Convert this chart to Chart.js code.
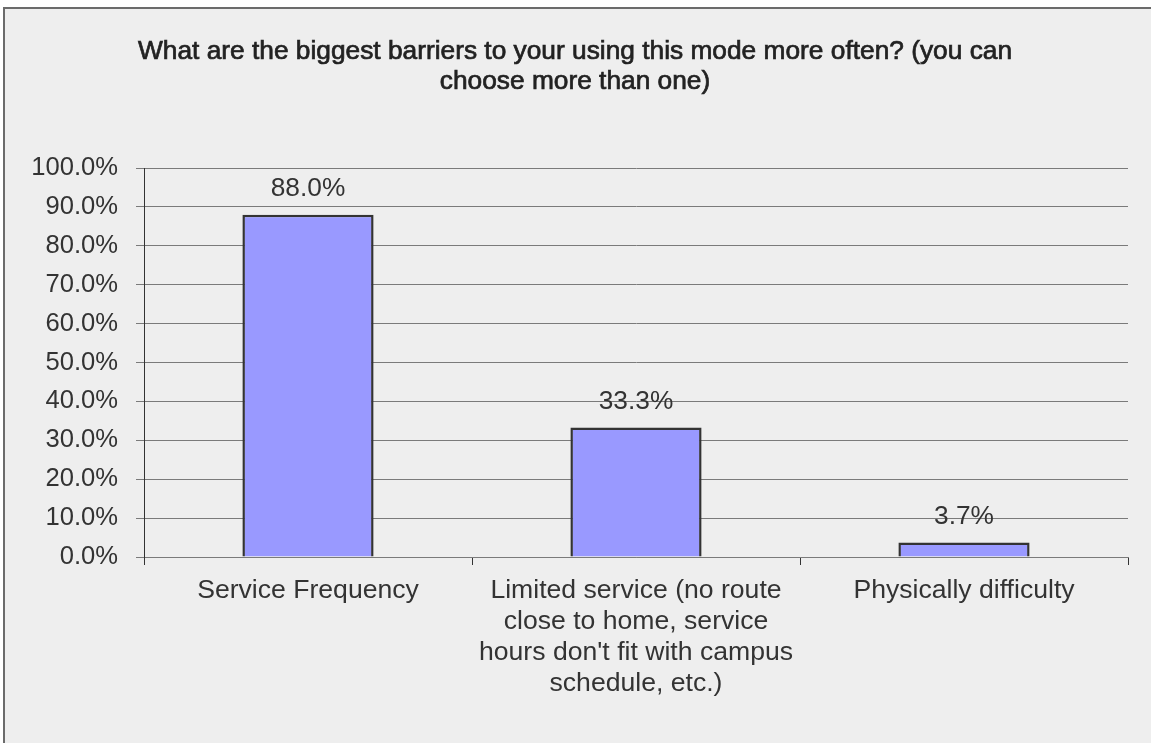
<!DOCTYPE html>
<html>
<head>
<meta charset="utf-8">
<script src="https://cdn.jsdelivr.net/npm/chart.js@4/dist/chart.umd.min.js"></script>
<style>
  html, body { margin: 0; padding: 0; background: #ffffff; overflow: hidden; }
  #frame {
    position: absolute; left: 3px; top: 7px;
    width: 1200px; height: 800px;
    background: #eeeeee; border: 2px solid #6b6b6b;
  }
  #chart { position: absolute; left: 0; top: 0; }
</style>
</head>
<body>
<div id="frame"></div>
<canvas id="chart" width="1151" height="743"></canvas>
<script>
// Survey question and answer options
const titleLines = [
  "What are the biggest barriers to your using this mode more often? (you can",
  "choose more than one)"
];
const categories = [
  ["Service Frequency"],
  ["Limited service (no route", "close to home, service", "hours don't fit with campus", "schedule, etc.)"],
  ["Physically difficulty"]
];
// Share of respondents choosing each barrier (%)
const shares = [88.0, 33.3, 3.7];
const yMin = 0, yMax = 100, yStep = 10;

const FONT = "'Liberation Sans', Arial, Helvetica, sans-serif";

// Semi-bold two-line heading centred over the canvas
const heading = {
  id: 'heading',
  afterDraw(chart) {
    const ctx = chart.ctx;
    ctx.save();
    ctx.font = "26.3px " + FONT;
    ctx.fillStyle = '#222222';
    ctx.strokeStyle = '#222222';
    ctx.lineWidth = 0.7;
    ctx.textAlign = 'center';
    ctx.textBaseline = 'middle';
    const cx = 575;
    titleLines.forEach((line, i) => {
      const y = 52 + i * 30;
      ctx.fillText(line, cx, y);
      ctx.strokeText(line, cx, y);
    });
    ctx.restore();
  }
};

// Writes the percentage above each bar
const valueLabels = {
  id: 'valueLabels',
  afterDatasetsDraw(chart) {
    const ctx = chart.ctx;
    const meta = chart.getDatasetMeta(0);
    ctx.save();
    ctx.font = "26.3px " + FONT;
    ctx.fillStyle = '#333333';
    ctx.textAlign = 'center';
    ctx.textBaseline = 'middle';
    meta.data.forEach((bar, i) => {
      const v = chart.data.datasets[0].data[i];
      ctx.fillText(v.toFixed(1) + '%', bar.x, bar.y - 26);
    });
    ctx.restore();
  }
};

new Chart(document.getElementById('chart'), {
  type: 'bar',
  data: {
    labels: categories,
    datasets: [{
      data: shares,
      backgroundColor: '#9999ff',
      borderColor: '#333333',
      borderWidth: 2.5,
      barPercentage: 0.4,
      categoryPercentage: 1.0
    }]
  },
  options: {
    responsive: false,
    animation: false,
    devicePixelRatio: 1,
    layout: { padding: { left: 0, right: 23, top: 168, bottom: 0 } },
    plugins: {
      legend: { display: false },
      tooltip: { enabled: false },
      title: { display: false }
    },
    scales: {
      x: {
        offset: true,
        grid: {
          display: true,
          drawOnChartArea: false,
          drawTicks: true,
          tickLength: 8,
          color: '#333333',
          offset: true
        },
        border: { display: true, color: '#7a7a7a', width: 1 },
        ticks: {
          color: '#333333',
          font: { family: FONT, size: 26.6, lineHeight: 31 / 26.6 },
          padding: 10,
          autoSkip: false,
          maxRotation: 0,
          minRotation: 0
        },
        afterFit(scale) { scale.height = 186; }
      },
      y: {
        min: yMin,
        max: yMax,
        grid: {
          color: '#7a7a7a',
          lineWidth: 1,
          drawTicks: true,
          tickLength: 8
        },
        border: { display: true, color: '#333333', width: 1 },
        ticks: {
          stepSize: yStep,
          color: '#333333',
          padding: 18,
          font: { family: FONT, size: 25.6 },
          callback: v => v.toFixed(1) + '%'
        },
        afterFit(scale) { scale.width = 144; }
      }
    }
  },
  plugins: [valueLabels, heading]
});
</script>
</body>
</html>
